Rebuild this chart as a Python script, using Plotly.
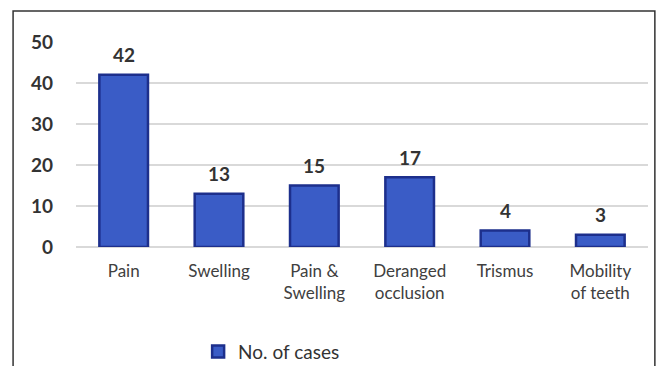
import plotly.graph_objects as go

categories = ["Pain", "Swelling", "Pain &<br>Swelling", "Deranged<br>occlusion", "Trismus", "Mobility<br>of teeth"]
cases = [42, 13, 15, 17, 4, 3]
y_ticks = [0, 10, 20, 30, 40, 50]

fig = go.Figure()
fig.add_trace(go.Bar(
    x=categories,
    y=cases,
    name="No. of cases",
    marker=dict(color="#3a5cc6", line=dict(color="#1d2f8c", width=2.5)),
    width=0.51,
))

# value labels floating above each bar
for cat, val in zip(categories, cases):
    fig.add_annotation(
        x=cat, y=val, text=str(val), showarrow=False,
        yanchor="middle", yshift=20,
        font=dict(family="Lato", size=19, color="#333333", weight="bold"),
    )

fig.update_layout(
    width=659, height=366,
    margin=dict(l=76, r=11, t=42, b=119, autoexpand=False),
    paper_bgcolor="white",
    plot_bgcolor="white",
    font=dict(family="Lato", color="#404040"),
    showlegend=True,
    legend=dict(
        orientation="h", x=0.342, xanchor="center", y=-0.51, yanchor="middle",
        font=dict(family="Lato", size=19, color="#333333"),
        itemwidth=30,
    ),
    xaxis=dict(
        showgrid=False, showline=False, ticks="",
        tickfont=dict(family="Lato", size=17, color="#404040"),
        ticklabelstandoff=12,
    ),
    yaxis=dict(
        range=[0, 50], tickvals=y_ticks,
        showgrid=True, gridcolor="#d9d9d9", gridwidth=2,
        zeroline=True, zerolinecolor="#d9d9d9", zerolinewidth=2,
        showline=False, ticks="",
        tickfont=dict(family="Lato", size=19, color="#333333", weight="bold"),
        ticklabelstandoff=22,
    ),
    shapes=[dict(
        type="rect", xref="paper", yref="paper",
        x0=-0.110, x1=1.012, y0=-0.62, y1=1.151,
        line=dict(color="#333333", width=1.5), fillcolor="rgba(0,0,0,0)",
        layer="below",
    )],
)

fig.write_html("out.html")
